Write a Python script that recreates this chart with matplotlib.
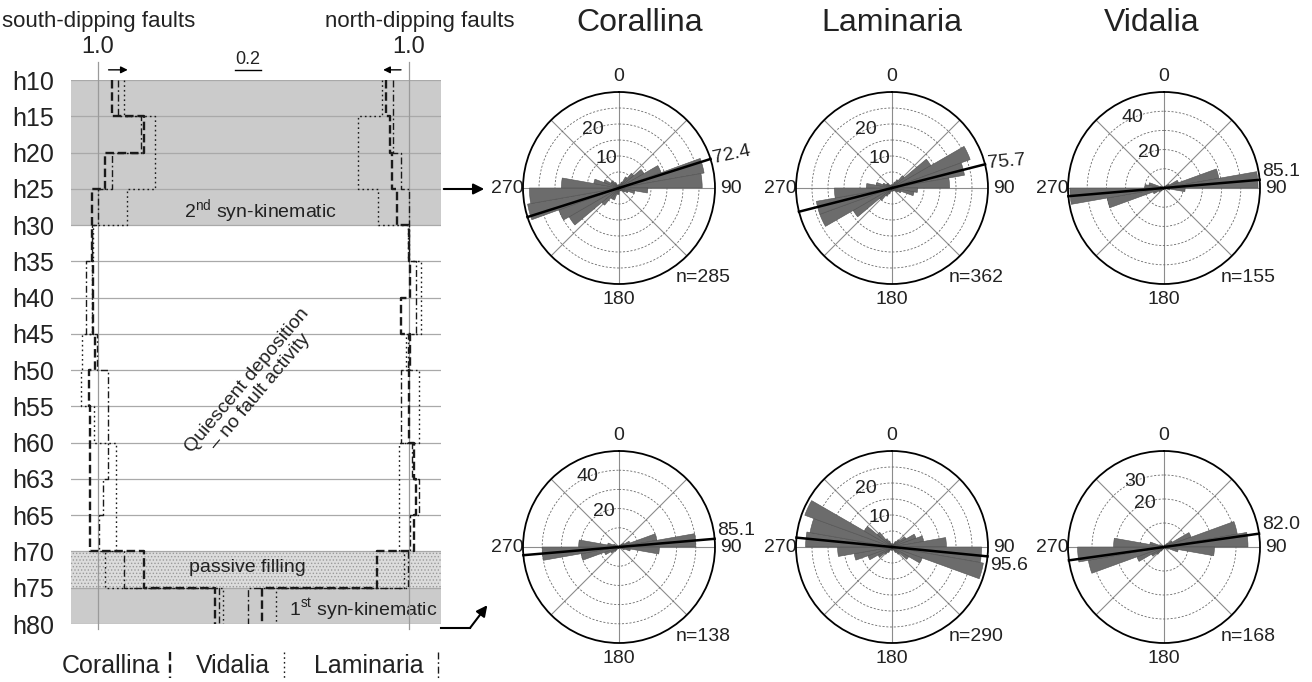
import numpy as np
import matplotlib
matplotlib.use('Agg')
import matplotlib.pyplot as plt

plt.rcParams['font.family'] = ['Liberation Sans', 'DejaVu Sans']
plt.rcParams['mathtext.fontset'] = 'custom'
plt.rcParams['mathtext.rm'] = 'Liberation Sans'
plt.rcParams['hatch.linewidth'] = 0.6

W, H = 1312, 682

# horizons (top to bottom)
levels = ['h10', 'h15', 'h20', 'h25', 'h30', 'h35', 'h40', 'h45', 'h50',
          'h55', 'h60', 'h63', 'h65', 'h70', 'h75', 'h80']

# fault ratio per interval (h10-h15 ... h75-h80)
south_corallina = [1.11, 1.35, 1.05, 0.95, 0.95, 0.96, 0.96, 0.98, 0.93, 0.94, 0.94, 0.94, 0.94, 1.35, 1.90]
south_vidalia = [1.20, 1.44, 1.44, 1.22, 0.96, 0.95, 0.95, 0.88, 0.87, 0.97, 1.14, 1.14, 1.14, 1.05, 1.96]
south_laminaria = [1.15, 1.33, 1.11, 1.00, 0.95, 0.91, 0.91, 0.99, 1.08, 1.08, 1.08, 1.04, 1.01, 1.20, 1.93]
north_corallina = [1.18, 1.15, 1.13, 1.09, 1.00, 0.99, 1.06, 0.99, 1.00, 1.00, 0.96, 0.95, 0.96, 1.25, 2.13]
north_vidalia = [1.21, 1.39, 1.39, 1.24, 1.01, 0.91, 0.91, 1.02, 0.92, 0.92, 1.08, 1.08, 1.08, 1.04, 2.02]
north_laminaria = [1.12, 1.12, 1.06, 1.00, 1.00, 0.95, 0.95, 1.01, 1.06, 1.06, 0.98, 0.92, 0.99, 1.01, 2.24]

# rose diagrams: counts per 10 degree bin from 0 to 350
rose_cor_2nd = [1, 1, 2, 4, 6, 9, 14, 27, 26, 9, 5, 3, 2, 1, 1, 1, 0, 1,
                2, 2, 4, 4, 7, 18, 20, 29, 28, 18, 8, 5, 3, 3, 2, 1, 1, 1]
rose_lam_2nd = [1, 1, 2, 3, 5, 14, 26, 23, 18, 8, 7, 3, 2, 1, 1, 1, 1, 1,
                1, 1, 2, 3, 5, 14, 24, 24, 18, 8, 5, 3, 2, 2, 1, 1, 1, 1]
rose_vid_2nd = [0, 0, 1, 1, 2, 3, 8, 29, 49, 11, 3, 1, 0, 0, 0, 0, 0, 0,
                0, 0, 1, 1, 2, 3, 6, 30, 49, 10, 8, 2, 1, 0, 0, 0, 0, 0]
rose_cor_1st = [0, 0, 1, 1, 2, 3, 6, 20, 40, 21, 6, 3, 1, 0, 0, 0, 0, 0,
                0, 0, 1, 1, 3, 5, 8, 20, 40, 21, 6, 3, 1, 0, 0, 0, 0, 0]
rose_lam_1st = [1, 1, 1, 2, 3, 5, 8, 10, 17, 28, 29, 10, 6, 3, 2, 1, 1, 1,
                1, 1, 1, 2, 3, 5, 8, 12, 17, 27, 26, 29, 10, 6, 3, 2, 1, 1]
rose_vid_1st = [0, 0, 1, 1, 2, 4, 12, 31, 35, 21, 6, 2, 1, 0, 0, 0, 0, 0,
                0, 0, 1, 2, 4, 6, 12, 32, 36, 21, 6, 2, 1, 0, 0, 0, 0, 0]

species = ['Corallina', 'Laminaria', 'Vidalia']
mean_dir = [[72.4, 75.7, 85.1], [85.1, 95.6, 82.0]]
n_faults = [[285, 362, 155], [138, 290, 168]]
r_max = [[30, 30, 50], [50, 30, 40]]
r_step = [[5, 5, 10], [10, 5, 10]]
r_labels = [[(10, 20), (10, 20), (20, 40)], [(20, 40), (10, 20), (20, 30)]]
rose_counts = [[rose_cor_2nd, rose_lam_2nd, rose_vid_2nd],
               [rose_cor_1st, rose_lam_1st, rose_vid_1st]]

styles = {
    'Corallina': dict(color='#1a1a1a', lw=1.7, dashes=(3.6, 1.6)),
    'Vidalia': dict(color='#1a1a1a', lw=1.0, dashes=(1.2, 2.2)),
    'Laminaria': dict(color='#1a1a1a', lw=1.0, dashes=(5, 2, 1.2, 2)),
}

fig = plt.figure(figsize=(W / 100, H / 100), dpi=100)

# ---- left panel -------------------------------------------------------
px0, px1, py0, py1 = 71, 441, 80, 624
unit = 130.0
ref_s, ref_n = 98, 409

ax = fig.add_axes([px0 / W, 1 - py1 / H, (px1 - px0) / W, (py1 - py0) / H])
ax.set_ylim(len(levels) - 1, 0)
ax.set_xlim(1 + (px0 - ref_s) / unit, 1 + (px1 - ref_s) / unit)
axn = ax.twiny()
axn.set_xlim(1 + (ref_n - px0) / unit, 1 + (ref_n - px1) / unit)
for a in (ax, axn):
    for s in a.spines.values():
        s.set_visible(False)
    a.set_xticks([])
ax.set_yticks(range(len(levels)))
ax.set_yticklabels(levels, fontsize=18, color='#222222')
ax.tick_params(axis='y', length=0, pad=12)

ax.axhspan(0, 4, color='#cbcbcb', lw=0, zorder=0)
ax.axhspan(13, 14, facecolor='#dcdcdc', hatch='.....', edgecolor='#9a9a9a', lw=0, zorder=0)
ax.axhspan(14, 15, color='#cbcbcb', lw=0, zorder=0)
for i in range(len(levels)):
    ax.axhline(i, color='#a9a9a9', lw=0.9, zorder=1)

ax.plot([1, 1], [-0.5, 15.15], color='#9a9a9a', lw=0.9, clip_on=False, zorder=1)
axn.plot([1, 1], [-0.5, 15.15], color='#9a9a9a', lw=0.9, clip_on=False, zorder=1)


def steps(vals):
    ys = np.repeat(np.arange(len(vals) + 1), 2)[1:-1]
    return np.repeat(vals, 2), ys


for name, vals in [('Vidalia', south_vidalia), ('Laminaria', south_laminaria), ('Corallina', south_corallina)]:
    xs, ys = steps(vals)
    ax.plot(xs, ys, zorder=3, **styles[name])
for name, vals in [('Vidalia', north_vidalia), ('Laminaria', north_laminaria), ('Corallina', north_corallina)]:
    xs, ys = steps(vals)
    axn.plot(xs, ys, zorder=3, **styles[name])

# scale marks
ax.text(1.0, -0.9, '1.0', ha='center', va='center', fontsize=17, clip_on=False, color='#222222')
axn.text(1.0, -0.9, '1.0', ha='center', va='center', fontsize=17, clip_on=False, color='#222222')
ax.annotate('', xy=(1.25, -0.28), xytext=(1.06, -0.28), annotation_clip=False,
            arrowprops=dict(arrowstyle='-|>', color='k', lw=1.0, mutation_scale=10))
axn.annotate('', xy=(1.22, -0.28), xytext=(1.04, -0.28), annotation_clip=False,
             arrowprops=dict(arrowstyle='-|>', color='k', lw=1.0, mutation_scale=10))
ax.plot([2.05, 2.25], [-0.27, -0.27], color='k', lw=1.0, clip_on=False)
ax.text(2.15, -0.33, '0.2', ha='center', va='bottom', fontsize=13, clip_on=False, color='#222222')

ax.text(2.25, 3.62, '2$^{\\mathrm{nd}}$ syn-kinematic', ha='center', va='center', fontsize=14, color='#222222')
ax.text(2.15, 13.45, 'passive filling', ha='center', va='center', fontsize=14, color='#222222')
ax.text(3.61, 14.6, '1$^{\\mathrm{st}}$ syn-kinematic', ha='right', va='center', fontsize=14, color='#222222')
ax.text(2.2, 8.45, 'Quiescent deposition\n\u2013 no fault activity', ha='center', va='center',
        rotation=50, fontsize=14, multialignment='center', linespacing=1.0, color='#222222')

# ---- rose diagrams ---------------------------------------------------
cxs = [619, 892, 1164]
cys = [188, 547]
R = 96
theta = np.deg2rad(np.arange(0, 360, 10))
for row in range(2):
    for col in range(3):
        cx, cy = cxs[col], cys[row]
        pa = fig.add_axes([(cx - R) / W, 1 - (cy + R) / H, 2 * R / W, 2 * R / H], projection='polar')
        pa.set_theta_zero_location('N')
        pa.set_theta_direction(-1)
        rm = r_max[row][col]
        pa.bar(theta, rose_counts[row][col], width=np.deg2rad(10), align='edge',
               color='#6c6c6c', edgecolor='#505050', lw=0.4, zorder=2)
        pa.set_ylim(0, rm)
        pa.set_yticks(np.arange(r_step[row][col], rm, r_step[row][col]))
        pa.set_yticklabels([])
        pa.set_xticks(np.deg2rad(np.arange(0, 360, 45)))
        pa.set_xticklabels(['0', '', '90', '', '180', '', '270', ''])
        pa.tick_params(axis='x', labelsize=14, pad=1, labelcolor='#222222')
        pa.xaxis.grid(True, color='#8c8c8c', lw=0.8, ls='-')
        pa.yaxis.grid(True, color='#6a6a6a', lw=0.6, ls=(0, (2.5, 2)))
        pa.spines['polar'].set_linewidth(1.3)
        md = np.deg2rad(mean_dir[row][col])
        pa.plot([md, md], [0, rm], color='k', lw=1.8, zorder=4, clip_on=False)
        pa.plot([md + np.pi, md + np.pi], [0, rm], color='k', lw=1.8, zorder=4, clip_on=False)
        for rv in r_labels[row][col]:
            pa.text(np.deg2rad(-24), rv, str(rv), ha='center', va='center', fontsize=14,
                    zorder=5, color='#222222')
        m = mean_dir[row][col]
        va = 'center' if m < 80 else ('bottom' if m < 90 else 'top')
        rot = {72.4: 12, 75.7: 5}.get(m, 0)
        pa.text(md, rm * 1.03, f'{m:.1f}', ha='left', va=va, fontsize=14, rotation=rot,
                rotation_mode='anchor', clip_on=False, color='#222222')
        pa.text(np.deg2rad(137), rm * 1.28, f'n={n_faults[row][col]}', ha='center', va='center',
                fontsize=14, clip_on=False, color='#222222')

# ---- overlay: headers, legend, arrows ---------------------------------
ov = fig.add_axes([0, 0, 1, 1])
ov.set_xlim(0, W)
ov.set_ylim(H, 0)
ov.axis('off')
ov.text(2, 22, 'south-dipping faults', ha='left', va='center', fontsize=16, color='#222222')
ov.text(325, 22, 'north-dipping faults', ha='left', va='center', fontsize=16, color='#222222')
for name, x in zip(species, [640, 892, 1152]):
    ov.text(x, 23, name, ha='center', va='center', fontsize=23, color='#222222')

ov.annotate('', xy=(487, 189), xytext=(441, 189),
            arrowprops=dict(arrowstyle='-|>', color='k', lw=1.5, mutation_scale=16))
ov.plot([441, 470], [628, 628], color='k', lw=1.5)
ov.annotate('', xy=(489, 603), xytext=(470, 628),
            arrowprops=dict(arrowstyle='-|>', color='k', lw=1.5, mutation_scale=16, shrinkA=0))

for name, tx, sx in [('Corallina', 62, 170), ('Vidalia', 196, 284), ('Laminaria', 314, 438)]:
    ov.text(tx, 666, name, ha='left', va='center', fontsize=18, color='#222222')
    ov.plot([sx, sx], [652, 678], **styles[name])

fig.savefig('out.png', dpi=100)
